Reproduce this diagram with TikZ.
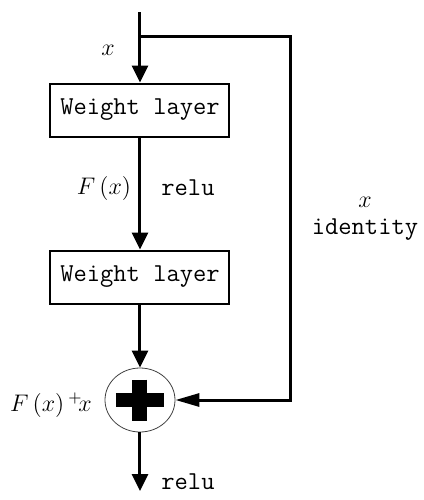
\documentclass[tikz,border=0pt]{standalone}
\usepackage{amsmath}
\usepackage{tikz}
\usetikzlibrary{arrows.meta}
\usetikzlibrary{shapes.geometric}

\tikzset{
  layer/.style={draw,line width=1pt,minimum width=89.5pt,minimum height=26.5pt,inner sep=0pt,font=\fontsize{12.9}{15}\selectfont\ttfamily},
  tag/.style={font=\fontsize{12.9}{15}\selectfont\ttfamily,inner sep=0pt},
  sym/.style={font=\fontsize{12}{14}\selectfont,inner sep=0pt},
  flow/.style={line width=1.5pt,-{Triangle[length=8.5pt,width=8pt]}},
  skip/.style={line width=1.5pt,-{Triangle[length=12pt,width=6.5pt]}}
}

\begin{document}
\begin{tikzpicture}[x=0.5pt,y=-0.5pt]
\useasboundingbox (0,0) rectangle (424,500);
 \coordinate (in) at (140,12);
 \coordinate (split) at (140,36);
 \coordinate (c1) at (291,36);
 \coordinate (c2) at (291,400);
 \coordinate (out) at (140,491);
 \node[layer] (w1) at (140,110) {Weight layer};
 \node[layer] (w2) at (140,277) {Weight layer};
 \node[ellipse,draw,black!75,line width=0.4pt,minimum width=35pt,minimum height=32pt,inner sep=0pt] (add) at (140,400) {};

 \draw[flow] (in) -- (w1.north);
 \draw[flow] (w1.south) -- (w2.north);
 \draw[flow] (w2.south) -- (add.north);
 \draw[flow] (add.south) -- (out);
 \draw[skip] (split) -- (c1) -- (c2) -- (add.east);

 % plus sign
 \draw[line width=7pt] (add.center) ++(-24,0) -- ++(48,0);
 \draw[line width=7.5pt] (add.center) ++(0,-20.5) -- ++(0,41);

 \node[sym] (lx) at (108,50) {$x$};
 \node[sym] (lf) at (104,188) {$F\,(x)$};
 \node[tag] (r1) at (188,188) {relu};
 \node[sym] (ix) at (365,202) {$x$};
 \node[tag] (id) at (365,230) {identity};
 \node[sym] (lsum) at (51,405) {$F\,(x)\,{}^{+}\!x$};
 \node[tag] (r2) at (188,482) {relu};
\end{tikzpicture}
\end{document}
